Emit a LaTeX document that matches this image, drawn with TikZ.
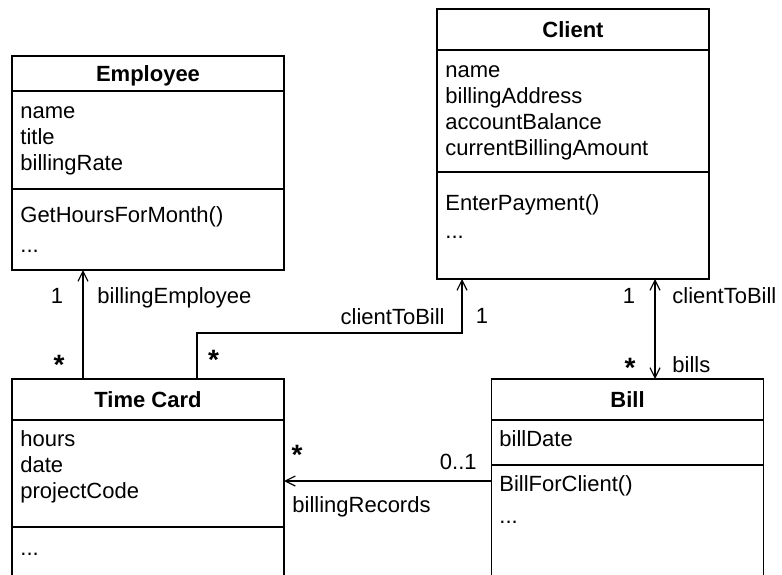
\documentclass[tikz,border=0pt]{standalone}
\usepackage{fontspec}
\setmainfont{Liberation Sans}
\usetikzlibrary{arrows.meta}

\tikzset{
  classpart/.style={draw, line width=0.6pt, minimum width=136pt, inner sep=0pt, outer sep=0pt},
  classname/.style={font=\fontsize{11}{13}\selectfont\bfseries, text height=8pt, text depth=0pt},
  members/.style={anchor=base west, align=left, inner sep=0pt},
  role/.style={anchor=base west, inner sep=0pt},
  mult/.style={anchor=base, inner sep=0pt, font=\fontsize{14}{14}\selectfont\bfseries},
  assoc/.style={line width=0.6pt}
}

\begin{document}
\begin{tikzpicture}[x=0.5pt, y=-0.5pt, font=\fontsize{11}{13}\selectfont,
    >={Straight Barb[length=5pt,width=5pt]}]
\useasboundingbox (0,0) rectangle (782,574);
\clip (0,0) rectangle (782,574);

% Employee (members placed at the baseline of their last line)
\node[classpart, classname, minimum height=17.5pt] (emphdr) at (148,73.5) {Employee};
\node[classpart, minimum height=49pt] (empattr) at (148,140) {};
\node[classpart, minimum height=40.5pt] (empmeth) at (148,229.5) {};
\node[members] (empattrtxt) at (20,170) {name\\title\\billingRate};
\node[members] (empmethtxt) at (20,252) {GetHoursForMonth()\\[2pt]...};

% Client
\node[classpart, classname, minimum height=20.5pt] (clthdr) at (573,29.5) {Client};
\node[classpart, minimum height=61pt] (cltattr) at (573,111) {};
\node[classpart, minimum height=53.5pt] (cltmeth) at (573,225.5) {};
\node[members] (cltattrtxt) at (445,155) {name\\billingAddress\\accountBalance\\currentBillingAmount};
\node[members] (cltmethtxt) at (445,238) {EnterPayment()\\[1pt]...};

% Time Card
\node[classpart, classname, minimum height=20.5pt] (tchdr) at (148,399.5) {Time Card};
\node[classpart, minimum height=53.5pt] (tcattr) at (148,473.5) {};
\node[classpart, minimum height=46.5pt] (tcmeth) at (148,573.5) {};
\node[members] (tcattrtxt) at (20,498) {hours\\date\\projectCode};
\node[members] (tcmethtxt) at (20,555) {...};

% Bill
\node[classpart, classname, minimum height=20.5pt] (billhdr) at (627.5,399.5) {Bill};
\node[classpart, minimum height=22.5pt] (billattr) at (627.5,442.5) {};
\node[classpart, minimum height=77.5pt] (billmeth) at (627.5,542.5) {};
\node[members] (billattrtxt) at (499,446) {billDate};
\node[members] (billmethtxt) at (499,523) {BillForClient()\\[3pt]...};

% associations
\coordinate (bend) at (462,333);
\draw[assoc,->] (tchdr.north -| 83,0) -- (empmeth.south -| 83,0);
\draw[assoc,->] (tchdr.north -| 197,0) |- (bend) -- (cltmeth.south -| bend);
\draw[assoc,<->] (cltmeth.south -| 655,0) -- (billhdr.north -| 655,0);
\draw[assoc,->] (billmeth.west |- 0,481) -- (tcattr.east |- 0,481);

% roles and multiplicities
\node[role, anchor=base] (empone) at (57,303) {1};
\node[role] (emprole) at (97,303) {billingEmployee};
\node[mult] (tcmany) at (59,374) {*};
\node[mult] (tcmanyclt) at (213.5,369) {*};
\node[role, anchor=base east] (cltrole) at (445,324) {clientToBill};
\node[role, anchor=base] (cltone) at (482,323) {1};
\node[role, anchor=base] (billcltone) at (629,303) {1};
\node[role] (billcltrole) at (672,303) {clientToBill};
\node[mult] (billmany) at (630,377) {*};
\node[role] (billsrole) at (672,372) {bills};
\node[mult] (recmany) at (297,464) {*};
\node[role, anchor=base east] (recone) at (477,469) {0..1};
\node[role] (recrole) at (292,512) {billingRecords};
\end{tikzpicture}
\end{document}
